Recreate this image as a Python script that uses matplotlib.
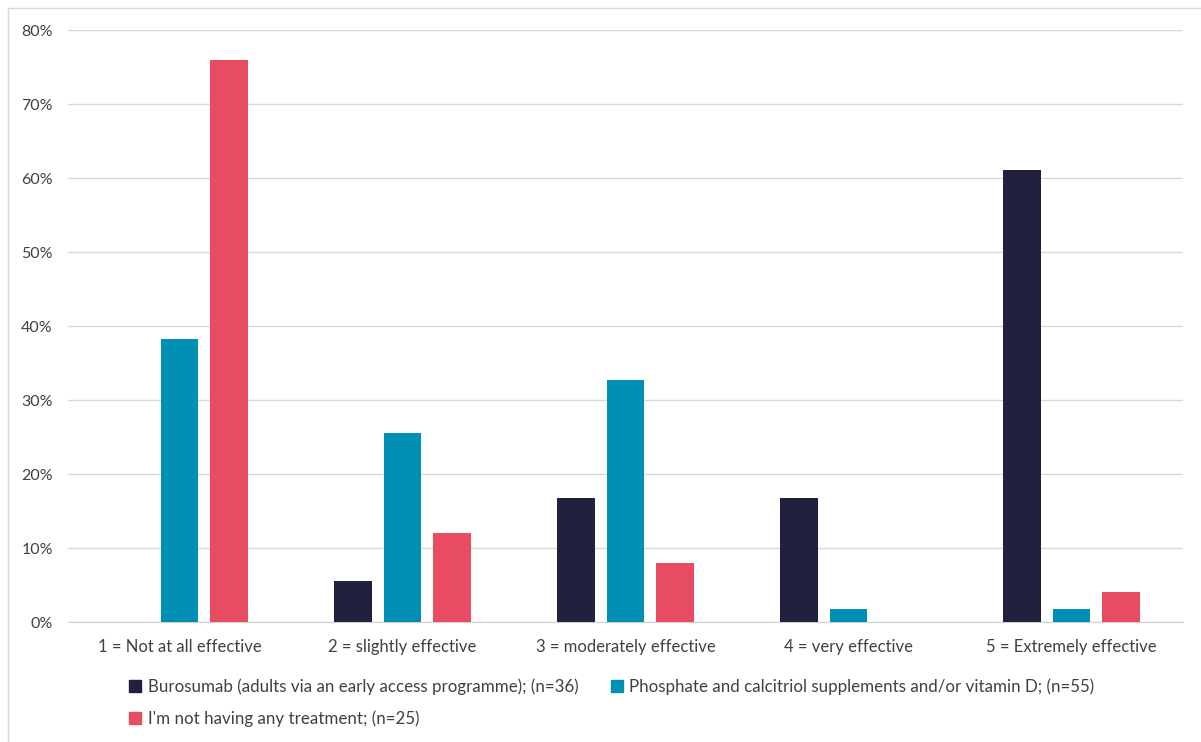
import numpy as np
import matplotlib.pyplot as plt
from matplotlib.patches import Patch
from matplotlib.lines import Line2D

categories = ["1 = Not at all effective", "2 = slightly effective", "3 = moderately effective",
              "4 = very effective", "5 = Extremely effective"]
burosumab = [0, 5.6, 16.7, 16.7, 61.1]
phosphate = [38.2, 25.5, 32.7, 1.8, 1.8]
no_treatment = [76, 12, 8, 0, 4]
series_names = ["Burosumab (adults via an early access programme); (n=36)",
                "Phosphate and calcitriol supplements and/or vitamin D; (n=55)",
                "I'm not having any treatment; (n=25)"]
colors = ["#21203f", "#0090b4", "#e84c62"]

plt.rcParams['font.family'] = ['Lato', 'DejaVu Sans']

fig = plt.figure(figsize=(12.01, 7.42), dpi=100)
ax = fig.add_axes([68/1201, 1-622/742, (1183-68)/1201, (622-30)/742])

x = np.arange(len(categories))
w = 0.17
pitch = 0.22
for i, (vals, c) in enumerate(zip([burosumab, phosphate, no_treatment], colors)):
    ax.bar(x + (i-1)*pitch, vals, width=w, color=c, zorder=3)

ax.set_xlim(-0.5, 4.5)
ax.set_ylim(0, 80)
ax.set_yticks(range(0, 81, 10))
ax.set_yticklabels([f"{v}%" for v in range(0, 81, 10)])
ax.set_xticks(x)
ax.set_xticklabels(categories)
ax.grid(axis='y', color='#d9d9d9', linewidth=1, zorder=0)
for s in ['top', 'right', 'left']:
    ax.spines[s].set_visible(False)
ax.spines['bottom'].set_color('#d0d0d0')
ax.tick_params(axis='x', length=0, labelsize=12, colors='#404040', pad=12)
ax.tick_params(axis='y', length=0, labelsize=11.5, colors='#404040', pad=11)

# legend filled row by row: col-major order A, C, B
order = [0, 2, 1]
handles = [Patch(color=colors[k]) for k in order]
labels = [series_names[k] for k in order]
leg = fig.legend(handles, labels, ncol=2, loc='upper left',
                 bbox_to_anchor=(114/1201, 1-663/742), frameon=False,
                 handlelength=0.7, handleheight=0.7, handletextpad=0.4,
                 columnspacing=1.9, labelspacing=0.9, fontsize=12.2)
for t in leg.get_texts():
    t.set_color('#404040')

# light frame around the chart area
fig.add_artist(Line2D([8/1201, 8/1201], [0, 1-8/742], transform=fig.transFigure, color='#d9d9d9', lw=1))
fig.add_artist(Line2D([8/1201, 1], [1-8/742, 1-8/742], transform=fig.transFigure, color='#d9d9d9', lw=1))

fig.savefig("out.png", dpi=100)
